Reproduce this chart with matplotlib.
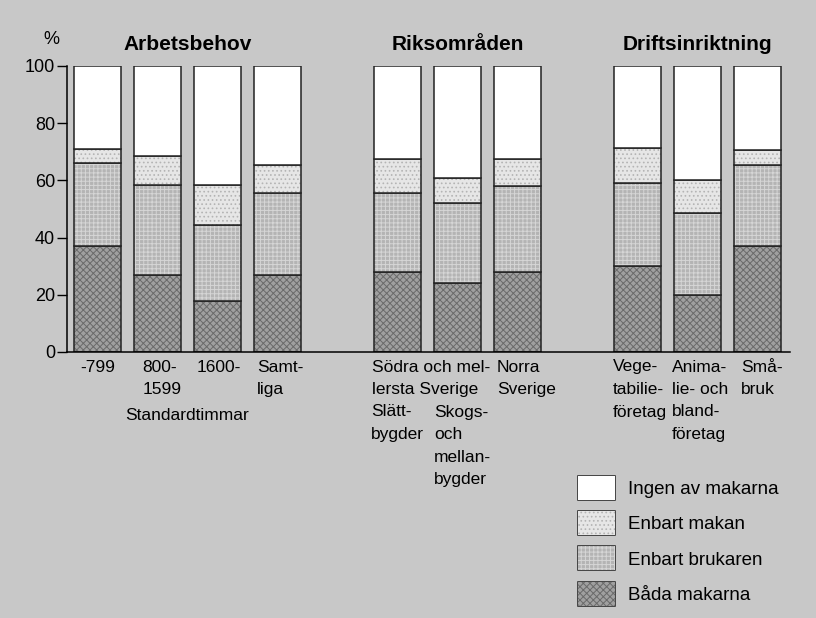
import numpy as np
import matplotlib
matplotlib.use('Agg')
import matplotlib.pyplot as plt
from matplotlib.patches import Patch

plt.rcParams['font.family'] = ['Liberation Sans', 'DejaVu Sans']
plt.rcParams['hatch.linewidth'] = 0.7

# data (percent of farms)
groups = ['Arbetsbehov', 'Riksområden', 'Driftsinriktning']
group_sizes = [4, 3, 3]
bada = [37, 27, 18, 27, 28, 24, 28, 30, 20, 37]
brukaren = [29, 31.5, 26.5, 28.5, 27.5, 28, 30, 29, 28.5, 28.5]
makan = [5, 10, 14, 10, 12, 9, 9.5, 12.5, 11.5, 5]
ingen = [100 - a - b - c for a, b, c in zip(bada, brukaren, makan)]
series_names = ['Båda makarna', 'Enbart brukaren', 'Enbart makan', 'Ingen av makarna']

# category labels: (bar index, first row, lines)
cat_labels = [
    (0, 0, ['-799']),
    (1, 0, ['800-', '1599']),
    (2, 0, ['1600-']),
    (3, 0, ['Samt-', 'liga']),
    (4, 0, ['Södra och mel-', 'lersta Sverige']),
    (6, 0, ['Norra', 'Sverige']),
    (4, 2, ['Slätt-', 'bygder']),
    (5, 2, ['Skogs-', 'och', 'mellan-', 'bygder']),
    (7, 0, ['Vege-', 'tabilie-', 'företag']),
    (8, 0, ['Anima-', 'lie- och', 'bland-', 'företag']),
    (9, 0, ['Små-', 'bruk']),
]
# small horizontal nudges (pixels) of each label block, as in the print
label_dx = [6.5, 8.5, 2.5, 2.5, -2.5, 2.8, -3.2, -0.2, -1.5, -2.5, 6.5]

bg = '#c8c8c8'
styles = [
    dict(facecolor='#a0a0a0', hatch='xxxxx', hc='#6a6a6a'),
    dict(facecolor='#b4b4b4', hatch='++++', hc='#d6d6d6'),
    dict(facecolor='#e6e6e6', hatch='....', hc='#b4b4b4'),
    dict(facecolor='white', hatch=None, hc='white'),
]

# bar positions: groups separated by one empty slot
pos = []
start = 0
gcent = []
for n in group_sizes:
    pos += list(range(start, start + n))
    gcent.append(start + (n - 1) / 2)
    start += n + 1
pos = np.array(pos, dtype=float)

fig = plt.figure(figsize=(8.16, 6.18), dpi=100, facecolor=bg)
ax = fig.add_axes([67 / 816, 1 - 352 / 618, (790 - 67) / 816, 286 / 618])
ax.set_facecolor(bg)

w = 0.78
bottom = np.zeros(len(pos))
for vals, st in zip([bada, brukaren, makan, ingen], styles):
    vals = np.array(vals, dtype=float)
    ax.bar(pos, vals, w, bottom=bottom, color=st['facecolor'], edgecolor=st['hc'],
           hatch=st['hatch'], linewidth=0)
    ax.bar(pos, vals, w, bottom=bottom, fill=False, edgecolor='#222222', linewidth=1.1)
    bottom += vals

ax.set_xlim(-0.51, 11.54)
ax.set_ylim(0, 100)
ax.set_yticks(np.arange(0, 101, 20))
ax.set_xticks([])
ax.tick_params(axis='y', length=7, width=1, pad=1.5, labelsize=13, direction='out')
for s in ['top', 'right']:
    ax.spines[s].set_visible(False)
ax.spines['left'].set_linewidth(1.1)
ax.spines['bottom'].set_linewidth(1.1)

ax.annotate('%', xy=(0, 1), xycoords='axes fraction', xytext=(-16, 27),
            textcoords='offset pixels', ha='center', va='center', fontsize=13)

for g, c in zip(groups, gcent):
    ax.annotate(g, xy=(c, 100), xycoords='data', xytext=(0, 21),
                textcoords='offset pixels', ha='center', va='center',
                fontsize=15, fontweight='bold')

row_h = 22.5
for (i, row0, lines), dx in zip(cat_labels, label_dx):
    for k, line in enumerate(lines):
        ax.annotate(line, xy=(pos[i] - w / 2, 0), xycoords='data',
                    xytext=(dx, -15 - row_h * (row0 + k)), textcoords='offset pixels',
                    ha='left', va='center', fontsize=12.5)

ax.annotate('Standardtimmar', xy=(gcent[0], 0), xycoords='data',
            xytext=(-1, -15 - row_h * 2 - 4), textcoords='offset pixels',
            ha='center', va='center', fontsize=12.5)

handles = [Patch(facecolor=st['facecolor'], edgecolor=st['hc'], hatch=st['hatch'])
           for st in styles]
leg = fig.legend(handles[::-1], series_names[::-1], loc='upper left',
                 bbox_to_anchor=(578 / 816, 1 - 476 / 618), frameon=False,
                 fontsize=13.5, handlelength=1.97, handleheight=1.59,
                 labelspacing=0.6, handletextpad=0.7, borderpad=0, borderaxespad=0)
for h in leg.legend_handles:
    h.set_linewidth(0)
fig.canvas.draw()
# outline the legend boxes
for p in leg.legend_handles:
    bb = p.get_window_extent()
    fig.patches.append(plt.Rectangle((bb.x0, bb.y0), bb.width, bb.height, fill=False,
                                     edgecolor='#222222', linewidth=1.1,
                                     transform=None, figure=fig))

fig.savefig('out.png', dpi=100, facecolor=bg)
